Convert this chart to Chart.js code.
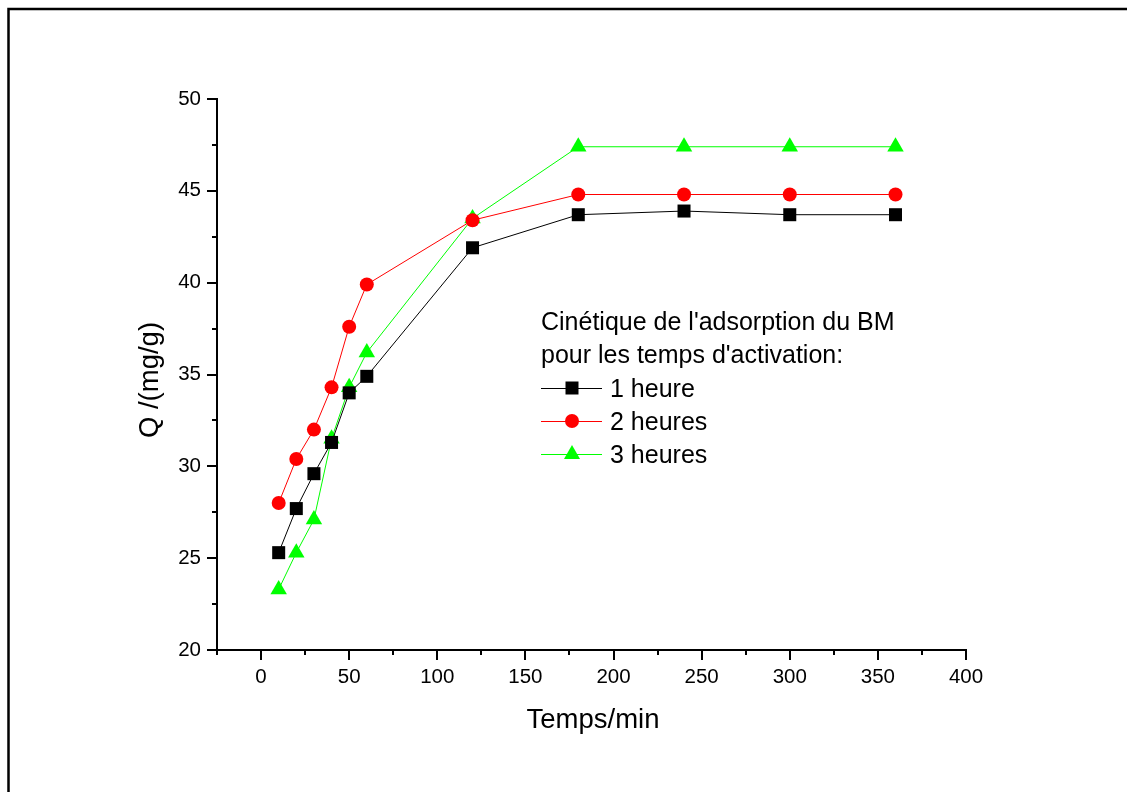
<!DOCTYPE html>
<html>
<head>
<meta charset="utf-8">
<script src="https://cdn.jsdelivr.net/npm/chart.js@4/dist/chart.umd.min.js"></script>
<style>
  html, body { margin: 0; padding: 0; background: #fff; }
  #wrap { width: 1127px; height: 792px; position: relative; }
</style>
</head>
<body>
<div id="wrap"><canvas id="c" width="1127" height="792"></canvas></div>
<script>
const timesMin = [10, 20, 30, 40, 50, 60, 120, 180, 240, 300, 360];
const q1h = [25.3, 27.7, 29.6, 31.3, 34.0, 34.9, 41.9, 43.7, 43.9, 43.7, 43.7];
const q2h = [28.0, 30.4, 32.0, 34.3, 37.6, 39.9, 43.4, 44.8, 44.8, 44.8, 44.8];
const q3h = [23.3, 25.3, 27.1, 31.5, 34.3, 36.2, 43.5, 47.4, 47.4, 47.4, 47.4];
const seriesLabels = ['1 heure', '2 heures', '3 heures'];
const legendTitle = ["Cinétique de l'adsorption du BM", "pour les temps d'activation:"];
const xTitle = 'Temps/min';
const yTitle = 'Q /(mg/g)';
const xTickValues = [0, 50, 100, 150, 200, 250, 300, 350, 400];
const yTickValues = [20, 25, 30, 35, 40, 45, 50];
const xMinorTicks = [-25, 25, 75, 125, 175, 225, 275, 325, 375];
const yMinorTicks = [22.5, 27.5, 32.5, 37.5, 42.5, 47.5];

const FONT = '"Liberation Sans", Arial, Helvetica, sans-serif';

function pts(ys) { return timesMin.map((t, i) => ({ x: t, y: ys[i] })); }

function drawMarker(ctx, style, x, y, color) {
  ctx.save();
  ctx.fillStyle = color;
  ctx.beginPath();
  if (style === 'rect') {
    ctx.rect(x - 6.5, y - 6.5, 13, 13);
  } else if (style === 'circle') {
    ctx.arc(x, y, 7, 0, Math.PI * 2);
  } else {
    ctx.moveTo(x, y - 9);
    ctx.lineTo(x + 8, y + 5);
    ctx.lineTo(x - 8, y + 5);
    ctx.closePath();
  }
  ctx.fill();
  ctx.restore();
}

const decorPlugin = {
  id: 'decor',
  afterDraw(chart) {
    const ctx = chart.ctx;
    const xs = chart.scales.x, ys = chart.scales.y;
    const area = chart.chartArea;
    ctx.save();
    // outer frame (top and left)
    ctx.strokeStyle = '#000';
    ctx.lineWidth = 2.5;
    ctx.beginPath();
    ctx.moveTo(8.5, 792);
    ctx.lineTo(8.5, 9);
    ctx.lineTo(1127, 9);
    ctx.stroke();
    // minor ticks
    ctx.lineWidth = 2;
    ctx.beginPath();
    xMinorTicks.forEach(v => {
      const px = Math.round(xs.getPixelForValue(v));
      ctx.moveTo(px, area.bottom);
      ctx.lineTo(px, area.bottom + 5);
    });
    yMinorTicks.forEach(v => {
      const py = Math.round(ys.getPixelForValue(v));
      ctx.moveTo(area.left, py);
      ctx.lineTo(area.left - 5, py);
    });
    ctx.stroke();
    // axis titles
    ctx.fillStyle = '#000';
    ctx.font = '27.5px ' + FONT;
    ctx.textAlign = 'center';
    ctx.textBaseline = 'alphabetic';
    ctx.fillText(xTitle, 593, 728);
    ctx.save();
    ctx.translate(158, 380);
    ctx.rotate(-Math.PI / 2);
    ctx.fillText(yTitle, 0, 0);
    ctx.restore();
    // legend
    ctx.font = '25px ' + FONT;
    ctx.textAlign = 'left';
    ctx.fillText(legendTitle[0], 541, 330);
    ctx.fillText(legendTitle[1], 541, 363);
    chart.data.datasets.forEach((ds, i) => {
      const ly = 388 + i * 33;
      ctx.strokeStyle = ds.borderColor;
      ctx.lineWidth = 1;
      ctx.beginPath();
      ctx.moveTo(541, ly + 0.5);
      ctx.lineTo(602, ly + 0.5);
      ctx.stroke();
      drawMarker(ctx, ds.pointStyle, 572, ly, ds.backgroundColor);
      ctx.fillStyle = '#000';
      ctx.fillText(ds.label, 610, ly + 8.5);
    });
    ctx.restore();
  }
};

const common = { showLine: true, borderWidth: 1, pointBorderWidth: 0, tension: 0 };

new Chart(document.getElementById('c'), {
  type: 'scatter',
  data: {
    datasets: [
      Object.assign({ label: seriesLabels[0], data: pts(q1h), borderColor: '#000000', backgroundColor: '#000000', pointStyle: 'rect', pointRadius: 9.2 }, common),
      Object.assign({ label: seriesLabels[1], data: pts(q2h), borderColor: '#ff0000', backgroundColor: '#ff0000', pointStyle: 'circle', pointRadius: 7 }, common),
      Object.assign({ label: seriesLabels[2], data: pts(q3h), borderColor: '#00ff00', backgroundColor: '#00ff00', pointStyle: 'triangle', pointRadius: 9.5 }, common)
    ]
  },
  options: {
    responsive: false,
    animation: false,
    devicePixelRatio: 1,
    layout: { padding: { top: 99, right: 161, left: 0, bottom: 0 } },
    plugins: { legend: { display: false }, tooltip: { enabled: false } },
    elements: { point: { hoverRadius: 0 } },
    scales: {
      x: {
        type: 'linear', min: -25, max: 400,
        afterFit(s) { s.height = 142; },
        afterBuildTicks(s) { s.ticks = xTickValues.map(v => ({ value: v })); },
        border: { display: true, color: '#000', width: 2 },
        grid: { display: true, drawOnChartArea: false, drawTicks: true, tickLength: 10, color: '#000', lineWidth: 2 },
        ticks: { color: '#000', padding: 5, maxRotation: 0, autoSkip: false, font: { family: FONT, size: 20.5 } }
      },
      y: {
        type: 'linear', min: 20, max: 50,
        afterFit(s) { s.width = 217; },
        afterBuildTicks(s) { s.ticks = yTickValues.map(v => ({ value: v })); },
        border: { display: true, color: '#000', width: 2 },
        grid: { display: true, drawOnChartArea: false, drawTicks: true, tickLength: 10, color: '#000', lineWidth: 2 },
        ticks: { color: '#000', padding: 6, font: { family: FONT, size: 20.5 } }
      }
    }
  },
  plugins: [decorPlugin]
});
</script>
</body>
</html>
